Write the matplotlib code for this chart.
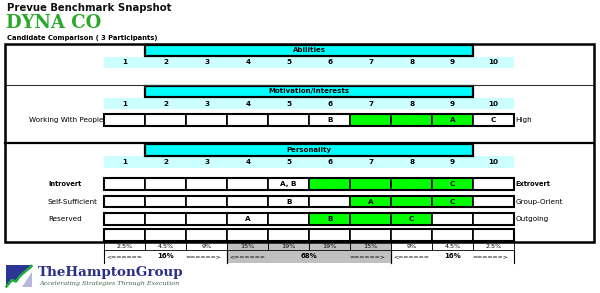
import matplotlib.pyplot as plt
from matplotlib.patches import Rectangle, Polygon

# scale positions and the normal-curve percentages under them
scale = list(range(1, 11))
pct_labels = ['2.5%', '4.5%', '9%', '15%', '19%', '19%', '15%', '9%', '4.5%', '2.5%']
band_labels = ['16%', '68%', '16%']
band_spans = [(1, 3), (4, 7), (8, 10)]

sections = ['Abilities', 'Motivation/Interests', 'Personality']

# motivation rows
motiv_left = ['Working With People']
motiv_right = ['High']
motiv_green = [(7, 9)]
motiv_marks = [{6: 'B', 9: 'A', 10: 'C'}]

# personality rows
pers_left = ['Introvert', 'Self-Sufficient', 'Reserved', '']
pers_right = ['Extrovert', 'Group-Orient', 'Outgoing', '']
pers_green = [(6, 9), (7, 9), (6, 8), None]
pers_marks = [{5: 'A, B', 9: 'C'}, {5: 'B', 7: 'A', 9: 'C'}, {4: 'A', 6: 'B', 8: 'C'}, {}]
pers_bold = [True, False, False, False]

GREEN = '#00ff00'
CYAN = '#00ffff'
LCYAN = '#ccffff'
GRAY = '#c0c0c0'

fig = plt.figure(figsize=(6.0, 2.93), dpi=100)
ax = fig.add_axes([0, 0, 1, 1])
CW = 40.97                # pixels per scale unit
X0 = 104.3                # pixel of the left edge of cell 1
ax.set_xlim(0.5 - X0 / CW, 0.5 + (600 - X0) / CW)
ax.set_ylim(293, 0)
ax.axis('off')


def px(p):
    return 0.5 + (p - X0) / CW


# titles
ax.text(px(7), 8, 'Prevue Benchmark Snapshot', fontsize=7.3, fontweight='bold',
        va='center', ha='left', color='#111111')
ax.text(px(6.5), 22.5, 'DYNA CO', fontsize=13, fontweight='bold', family='DejaVu Serif',
        va='center', ha='left', color='#2aa82a')
ax.text(px(7), 38, 'Candidate Comparison ( 3 Participants)', fontsize=4.85,
        fontweight='bold', va='center', ha='left')

# outer box and separators
ax.add_patch(Rectangle((px(5), 44), px(594) - px(5), 198, fill=False, lw=1.8, ec='black', zorder=5))
ax.plot([px(5), px(594)], [85, 85], color='#333333', lw=0.8, zorder=4)
ax.plot([px(5), px(594)], [143, 143], color='black', lw=1.6, zorder=4)


def header(ytop, name):
    ax.add_patch(Rectangle((1.5, ytop), 8, 11.5, fc=CYAN, ec='black', lw=1.6, zorder=3))
    ax.text(5.5, ytop + 5.8, name, fontsize=5, fontweight='bold', ha='center', va='center', zorder=4)
    ax.add_patch(Rectangle((0.5, ytop + 12), 10, 11.5, fc=LCYAN, ec='none', zorder=2))
    for s in scale:
        ax.text(s, ytop + 18, str(s), fontsize=5.2, fontweight='bold', ha='center', va='center', zorder=4)


def grid_row(ytop, left, right, green, marks, bold=False, h=11.7):
    for s in scale:
        fc = GREEN if green and green[0] <= s <= green[1] else 'white'
        ax.add_patch(Rectangle((s - 0.5, ytop), 1, h, fc=fc, ec='black', lw=1.2, zorder=3))
    ax.add_patch(Rectangle((0.5, ytop), 10, h, fill=False, ec='black', lw=1.5, zorder=4))
    for s, m in marks.items():
        ax.text(s, ytop + h / 2, m, fontsize=5.2, fontweight='bold', ha='center', va='center', zorder=5)
    fw = 'bold' if bold else 'normal'
    fs = 4.8 if bold else 5.2
    if left == 'Working With People':
        ax.text(0.48, ytop + h / 2, left, fontsize=fs, ha='right', va='center', fontweight=fw)
    elif left:
        ax.text(px(48), ytop + h / 2, left, fontsize=fs, ha='left', va='center', fontweight=fw)
    if right:
        ax.text(10.54, ytop + h / 2, right, fontsize=fs, ha='left', va='center', fontweight=fw)


header(44.5, sections[0])
header(85.5, sections[1])
for i, lab in enumerate(motiv_left):
    grid_row(114.3, lab, motiv_right[i], motiv_green[i], motiv_marks[i])

header(144.3, sections[2])
pers_tops = [178.3, 196, 213.3, 229.3]
for i, lab in enumerate(pers_left):
    grid_row(pers_tops[i], lab, pers_right[i], pers_green[i], pers_marks[i], pers_bold[i], h=11.2)

# percentage row
for s, lab in zip(scale, pct_labels):
    fc = GRAY if 4 <= s <= 7 else 'white'
    ax.add_patch(Rectangle((s - 0.5, 242), 1, 8, fc=fc, ec='black', lw=0.6, zorder=3))
    ax.text(s, 246.2, lab, fontsize=4.6, ha='center', va='center', zorder=4)

# band row
for (a, b), lab in zip(band_spans, band_labels):
    fc = GRAY if lab == '68%' else 'white'
    ax.add_patch(Rectangle((a - 0.5, 250), b - a + 1, 13, fc=fc, ec='none', zorder=2))
    ax.plot([a - 0.5, a - 0.5], [250, 263], color='black', lw=0.8, zorder=3)
    ax.plot([b + 0.5, b + 0.5], [250, 263], color='black', lw=0.8, zorder=3)
    ax.text(a - 0.45, 256.8, '<======', fontsize=4.4, ha='left', va='center', zorder=4)
    ax.text((a + b) / 2, 256.3, lab, fontsize=5, fontweight='bold', ha='center', va='center', zorder=4)
    ax.text(b + 0.35, 256.8, '======>', fontsize=4.4, ha='right', va='center', zorder=4)

# logo
ax.add_patch(Polygon([(px(6), 265), (px(31.5), 265), (px(31.5), 268), (px(20), 276),
                      (px(16), 281), (px(12), 280), (px(6), 286)],
                     closed=True, fc='#2b3596', ec='none'))
ax.add_patch(Polygon([(px(22), 287), (px(31.5), 287), (px(31.5), 272)],
                     closed=True, fc='#2b3596', ec='none', alpha=0.35))
ax.plot([px(6.5), px(12), px(16), px(20), px(31.5)], [286.5, 280, 281.5, 276, 266],
        color='#1fae3c', lw=1.8)
ax.text(px(38), 272.5, 'TheHamptonGroup', family='DejaVu Serif', fontweight='bold',
        fontsize=9.7, color='#2b2f86', ha='left', va='center')
ax.text(px(39), 283.5, 'Accelerating Strategies Through Execution', family='DejaVu Serif',
        style='italic', fontsize=4.6, color='#40604a', ha='left', va='center')

fig.savefig('out.png', dpi=100)
